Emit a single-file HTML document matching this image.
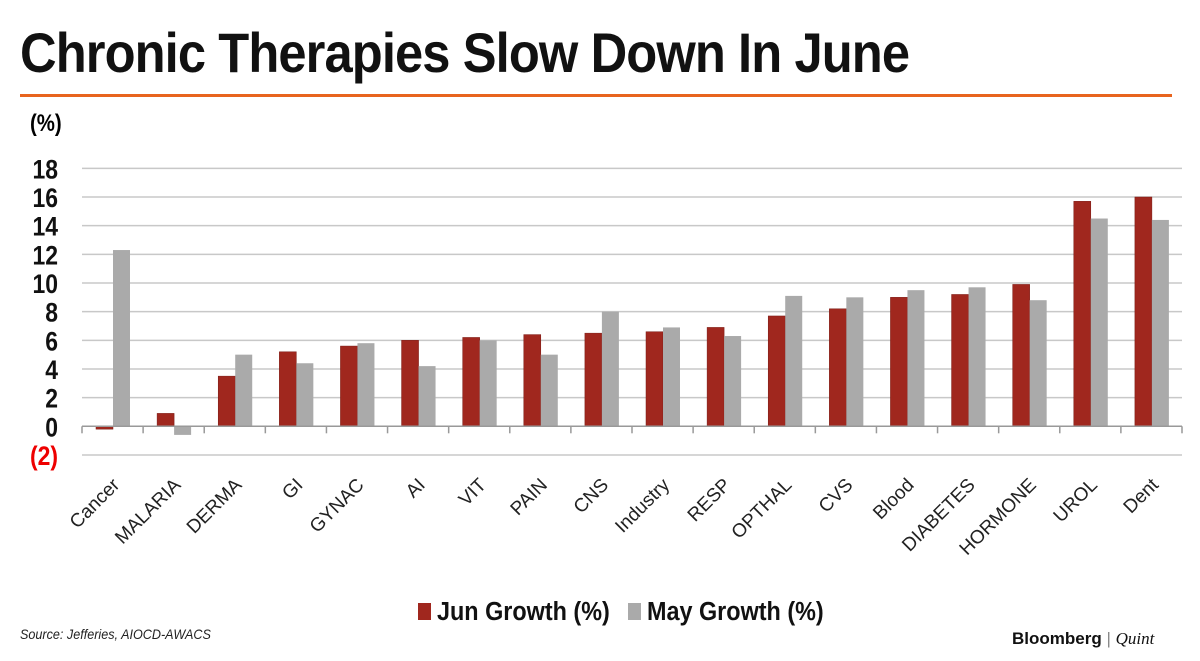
<!DOCTYPE html>
<html><head><meta charset="utf-8"><style>
body{margin:0;width:1200px;height:661px;background:#fff;font-family:"Liberation Sans",sans-serif;overflow:hidden;position:relative}
.t{position:absolute;white-space:nowrap}
</style></head><body>
<div class="t" style="left:20px;top:20px;font-size:56px;font-weight:bold;letter-spacing:-1px;transform:scaleX(0.905);transform-origin:0 0;color:#111">Chronic Therapies Slow Down In June</div>
<div style="position:absolute;left:20px;top:94px;width:1152px;height:3px;background:#e8641e"></div>
<div class="t" style="left:30px;top:110px;font-size:24px;font-weight:bold;transform:scaleX(0.85);transform-origin:0 0">(%)</div>
<svg id="c" width="1200" height="661" style="position:absolute;left:0;top:0"></svg>
<div class="t" style="left:20px;top:626px;font-size:14px;font-style:italic;color:#222;transform:scaleX(0.9);transform-origin:0 0">Source: Jefferies, AIOCD-AWACS</div>
<div class="t" style="left:1012px;top:629px;font-size:17px;font-weight:bold;color:#111">Bloomberg <span style="font-weight:normal;color:#888">|</span> <span style="font-family:'Liberation Serif',serif;font-style:italic;font-weight:normal">Quint</span></div>
<script>
const categories=["Cancer","MALARIA","DERMA","GI","GYNAC","AI","VIT","PAIN","CNS","Industry","RESP","OPTHAL","CVS","Blood","DIABETES","HORMONE","UROL","Dent"];
const junValues=[-0.2,0.9,3.5,5.2,5.6,6.0,6.2,6.4,6.5,6.6,6.9,7.7,8.2,9.0,9.2,9.9,15.7,16.0];
const mayValues=[12.3,-0.6,5.0,4.4,5.8,4.2,6.0,5.0,8.0,6.9,6.3,9.1,9.0,9.5,9.7,8.8,14.5,14.4];
const yTicks=[-2,0,2,4,6,8,10,12,14,16,18];
const NS="http://www.w3.org/2000/svg",svg=document.getElementById('c');
const L=82,R=1182,y0=426.3,k=14.33;
const y=v=>y0-v*k;
const cw=(R-L)/categories.length;
const x=i=>L+i*cw;
function mk(t,a){const e=document.createElementNS(NS,t);for(const q in a)e.setAttribute(q,a[q]);svg.appendChild(e);return e;}
yTicks.forEach(v=>{
 const g=mk('line',{x1:L,x2:R,y1:y(v),y2:y(v),stroke:'#c8c8c8','stroke-width':1.5});
 
 
 const t=mk('text',{x:58,y:y(v)+10,'text-anchor':'end','font-size':27,'font-weight':'bold',fill:v<0?'#e00':'#111',transform:`translate(58 0) scale(0.85 1) translate(-58 0)`});
 t.textContent=v<0?'('+(-v)+')':v;
 
 
});
categories.forEach((c,i)=>{
 const bx=x(i)+14,bw=17;
 const r=mk('rect',{x:bx,y:Math.min(y(junValues[i]),y0),width:bw,height:Math.abs(junValues[i]*k),fill:'#a0271e',stroke:'#7a1a14','stroke-width':0.5});
 
 
 const g=mk('rect',{x:bx+bw,y:Math.min(y(mayValues[i]),y0),width:bw,height:Math.abs(mayValues[i]*k),fill:'#aaaaaa'});
 
 
 const cx=x(i)+cw/2+8;
 const t=mk('text',{x:cx,y:486,'text-anchor':'end','font-size':19,fill:'#222',transform:`rotate(-45 ${cx} 486)`});
 t.textContent=c;
 
 
});
for(let i=0;i<=categories.length;i++){
 const tk=mk('line',{x1:x(i),x2:x(i),y1:y0,y2:y0+7,stroke:'#999','stroke-width':1.5});
 
 
}
const ax=mk('line',{x1:L,x2:R,y1:y0,y2:y0,stroke:'#999','stroke-width':1.5});


[[418,'#a0271e','Jun Growth (%)'],[628,'#aaaaaa','May Growth (%)']].forEach(([lx,col,lab])=>{
 const s=mk('rect',{x:lx,y:603,width:13,height:17,fill:col});
 
 
 const t=mk('text',{x:lx+19,y:620,'font-size':26,'font-weight':'bold',fill:'#111',transform:`translate(${lx+19} 0) scale(0.9 1) translate(${-(lx+19)} 0)`});
 t.textContent=lab;
 
 
});
</script>
</body></html>
